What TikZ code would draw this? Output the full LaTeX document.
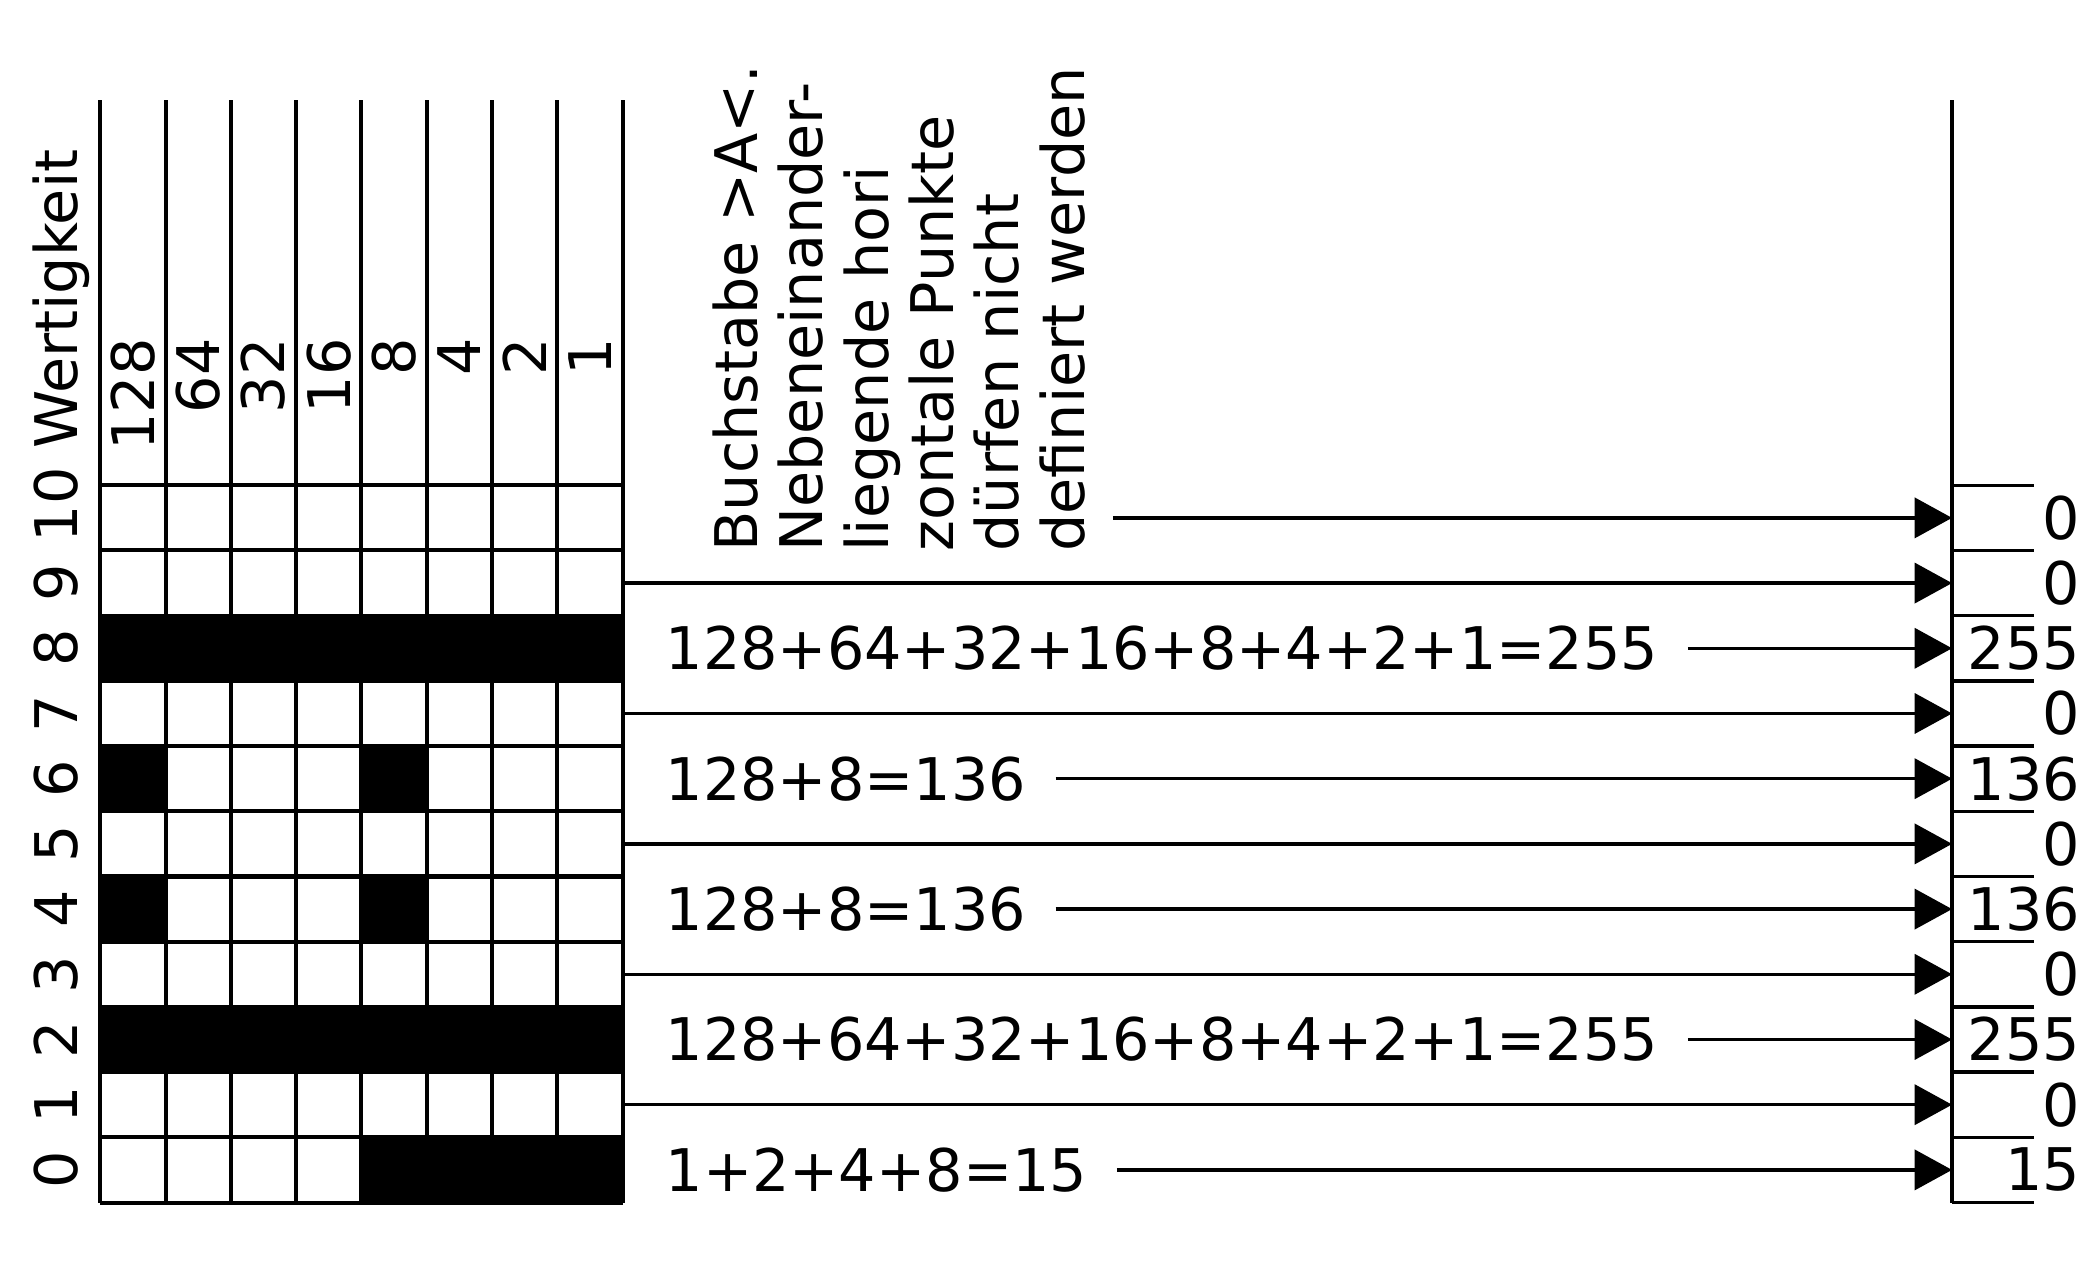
\documentclass[tikz,border=0pt]{standalone}
\usepackage{fontspec}
\setmainfont{DejaVu Sans}
\usetikzlibrary{arrows.meta}
\begin{document}
\begin{tikzpicture}[x=1pt,y=-1pt,
  gridline/.style={line width=3pt},
  txt/.style={font=\fontsize{44}{49}\selectfont, inner sep=0pt},
  arr/.style={line width=2.6pt, -{Triangle[length=28pt,width=30pt]}},
  tickline/.style={line width=2.6pt}]
\useasboundingbox (0,0) rectangle (1568,956.5);
\def\cw{48.875}
\def\rh{48.8}
% filled cells
\foreach \r/\a/\b in {8/0/8, 6/0/1, 6/4/5, 4/0/1, 4/4/5, 2/0/8, 0/4/8}
  \fill (75+\cw*\a, 900-\rh*\r) rectangle (75+\cw*\b, 900-\rh*\r-\rh);
% grid
\foreach \c in {0,...,8}
  \draw[gridline] (75+\cw*\c, 75) -- (75+\cw*\c, 900);
\foreach \r in {0,...,11}
  \draw[gridline] (75, 900-\rh*\r) -- (466, 900-\rh*\r);
% row labels
\foreach \r in {0,...,9}
  \node[txt, rotate=90, anchor=base] (rl\r) at (58, 900-\rh*\r-\rh/2) {\r};
\node[txt, rotate=90, anchor=base west] (wl) at (58, 406) {10 Wertigkeit};
% column headers
\foreach \c/\v in {0/128, 1/64, 2/32, 3/16, 4/8, 5/4, 6/2, 7/1}
  \node[txt, rotate=90, anchor=base east] (ch\c) at (75+\cw*\c+\cw/2+16, 253) {\v};
% explanatory text
\node[txt, rotate=90, anchor=north west, align=left] (expl) at (533, 413)
  {Buchstabe >A<.\\Nebeneinander-\\liegende hori\\zontale Punkte\\dürfen nicht\\definiert werden};
% right vertical line and ticks
\draw[tickline] (1461, 75) -- (1461, 900);
\foreach \r in {0,...,11}
  \draw[tickline] (1461, 900-\rh*\r) -- (1522, 900-\rh*\r);
% coordinates on right line
\foreach \r in {0,...,10}
  \coordinate (r\r) at (1461, 900-\rh*\r-\rh/2);
% odd rows: lines from grid
\foreach \r in {1,3,5,7,9} {
  \coordinate (g\r) at (466, 900-\rh*\r-\rh/2);
  \draw[arr] (g\r) -- (r\r);
}
% row 10
\coordinate (s10) at (833, 900-\rh*10-\rh/2);
\draw[arr] (s10) -- (r10);
% equations
\foreach \r/\t in {8/{128+64+32+16+8+4+2+1=255}, 6/{128+8=136}, 4/{128+8=136}, 2/{128+64+32+16+8+4+2+1=255}, 0/{1+2+4+8=15}} {
  \node[txt, anchor=west] (e\r) at (498, 900-\rh*\r-\rh/2) {\t};
  \draw[arr] ([xshift=22pt]e\r.east) -- (r\r);
}
% values
\foreach \r/\v in {0/15, 1/0, 2/255, 3/0, 4/136, 5/0, 6/136, 7/0, 8/255, 9/0, 10/0}
  \node[txt, anchor=east] (v\r) at (1557, 900-\rh*\r-\rh/2) {\v};
\end{tikzpicture}
\end{document}
